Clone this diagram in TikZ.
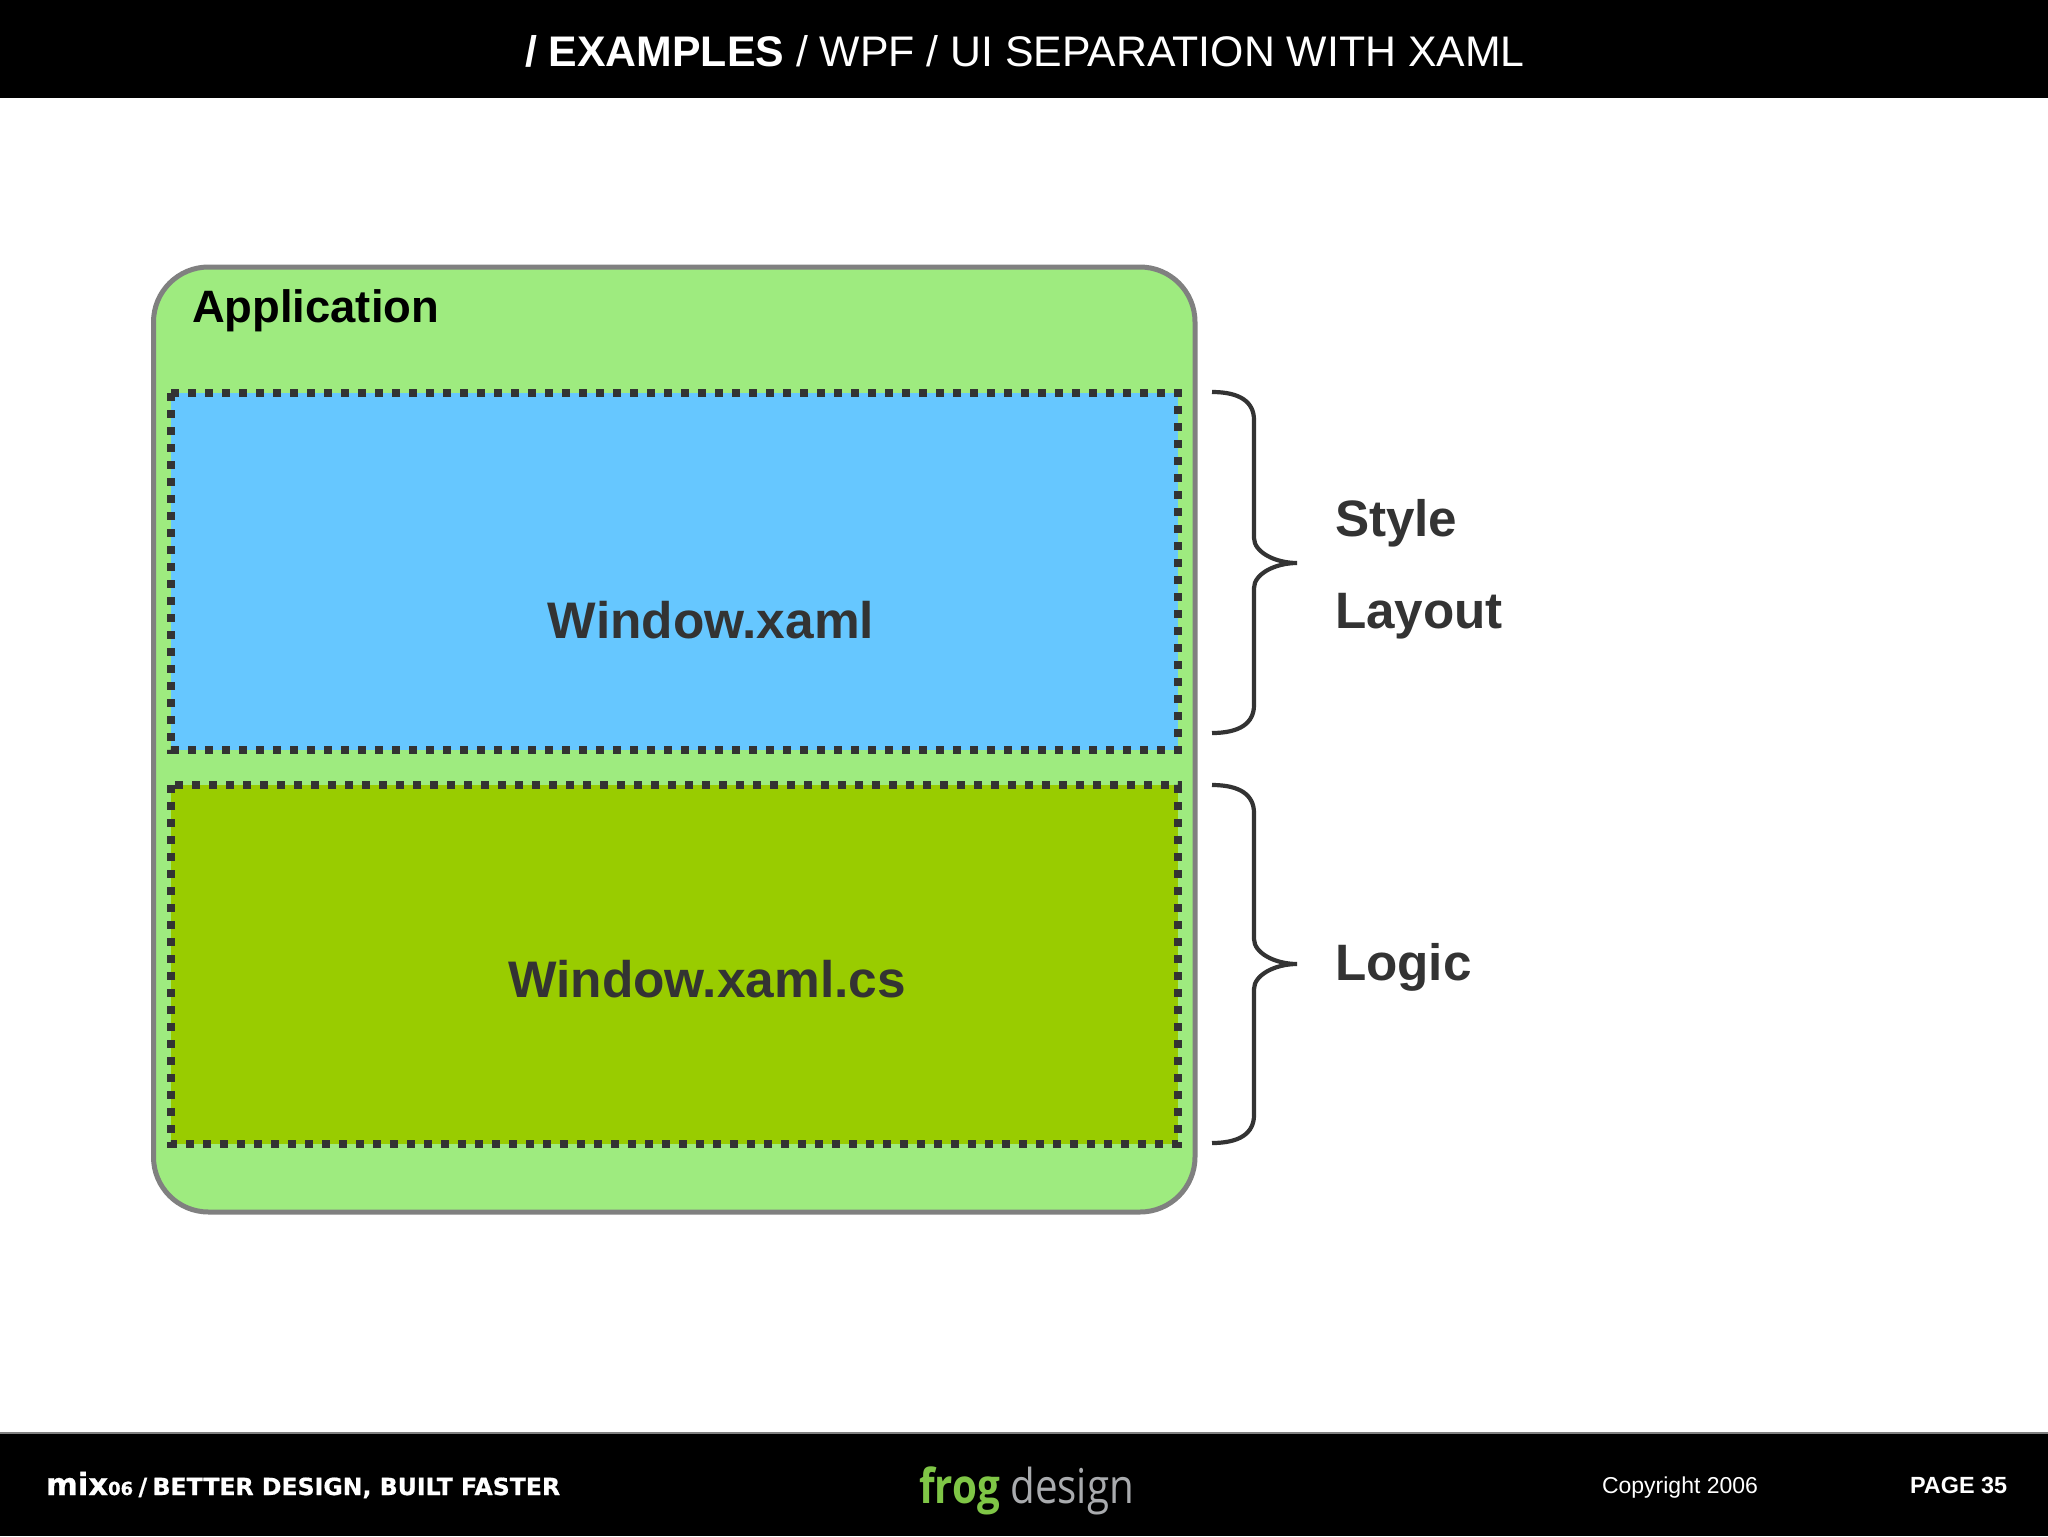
\documentclass[tikz,border=0pt]{standalone}
\usepackage{fontspec}
\setmainfont{Liberation Sans}
\newfontfamily\frogfont{Open Sans}
\newfontfamily\mixfont[BoldFeatures={FakeBold=0.7}]{DejaVu Sans}
\definecolor{appfill}{HTML}{9EEB7F}
\definecolor{appline}{HTML}{808080}
\definecolor{bluefill}{HTML}{66C7FF}
\definecolor{greenfill}{HTML}{99CC00}
\definecolor{ink}{HTML}{333333}
\definecolor{frog}{HTML}{7FC646}
\definecolor{froggray}{HTML}{A9ABAE}
\newcommand{\fs}[1]{\fontsize{#1}{#1}\selectfont}
\tikzset{
  x=0.5pt,y=-0.5pt,
  txt/.style={inner sep=0pt,outer sep=0pt,anchor=base west},
  midtxt/.style={inner sep=0pt,outer sep=0pt,anchor=base,font=\fs{25.7}\bfseries,text=ink},
  sidetxt/.style={txt,font=\fs{25.6}\bfseries,text=ink},
  bar/.style={fill=black,draw=none},
  layer/.style={line width=4.4pt,draw=ink,dash pattern=on 4.2pt off 4.3pt},
  bracket/.style={draw=ink,line width=2.1pt,line join=miter},
}
\begin{document}
\begin{tikzpicture}
\useasboundingbox (0,0) rectangle (2048,1536);
\fill[white] (0,0) rectangle (2048,1536);
\path[bar] (0,0) rectangle (2048,98);
\path[bar] (0,1433) rectangle (2048,1536);
\draw[draw=appline,line width=0.6pt] (0,1433) -- (2048,1433);
\draw[draw=appline,line width=2.5pt,fill=appfill,rounded corners=27.5pt] (153.5,267) rectangle (1195,1212);
\fill[bluefill] (171,393) rectangle (1178,750);
\draw[layer] (171,393) rectangle (1178,750);
\fill[greenfill] (171,785) rectangle (1178,1144);
\draw[layer] (171,785) rectangle (1178,1144);
\draw[bracket] (1212,392) .. controls (1240,392) and (1254,402) .. (1254,420) -- (1254,538)
  .. controls (1254,552) and (1275,563) .. (1297,563)
  .. controls (1275,563) and (1254,574) .. (1254,588) -- (1254,705)
  .. controls (1254,723) and (1240,733) .. (1212,733);
\draw[bracket] (1212,785) .. controls (1240,785) and (1254,795) .. (1254,813) -- (1254,939)
  .. controls (1254,953) and (1275,964) .. (1297,964)
  .. controls (1275,964) and (1254,975) .. (1254,989) -- (1254,1115)
  .. controls (1254,1133) and (1240,1143) .. (1212,1143);
\node[txt,text=white,font=\fs{21.4}] (title) at (525,67) {\textbf{/ EXAMPLES} / WPF / UI SEPARATION WITH XAML};
\node[txt,font=\fs{22.7}\bfseries] (app) at (192,322) {Application};
\node[midtxt] (w1) at (711,638) {Window.xaml};
\node[midtxt] (w2) at (707,997) {Window.xaml.cs};
\node[sidetxt] (s1) at (1335,536) {Style};
\node[sidetxt] (s2) at (1335,628) {Layout};
\node[sidetxt] (s3) at (1335,980) {Logic};
\node[txt,text=white,font=\mixfont\bfseries] (mix) at (46,1495) {\fs{15.3}mix\fs{9}06\fs{11.8}\hspace{2.7pt}/\hspace{2.7pt}BETTER DESIGN, BUILT FASTER};
\node[txt,font=\frogfont\fs{24}] (logo) at (919,1503) {\scalebox{.84}[1]{\textcolor{frog}{\textbf{frog}} \textcolor{froggray}{design}}};
\node[txt,text=white,font=\fs{11.5}] (copy) at (1602,1493) {Copyright 2006};
\node[txt,text=white,font=\fs{11.7}\bfseries] (page) at (1910,1493) {PAGE 35};
\end{tikzpicture}
\end{document}
